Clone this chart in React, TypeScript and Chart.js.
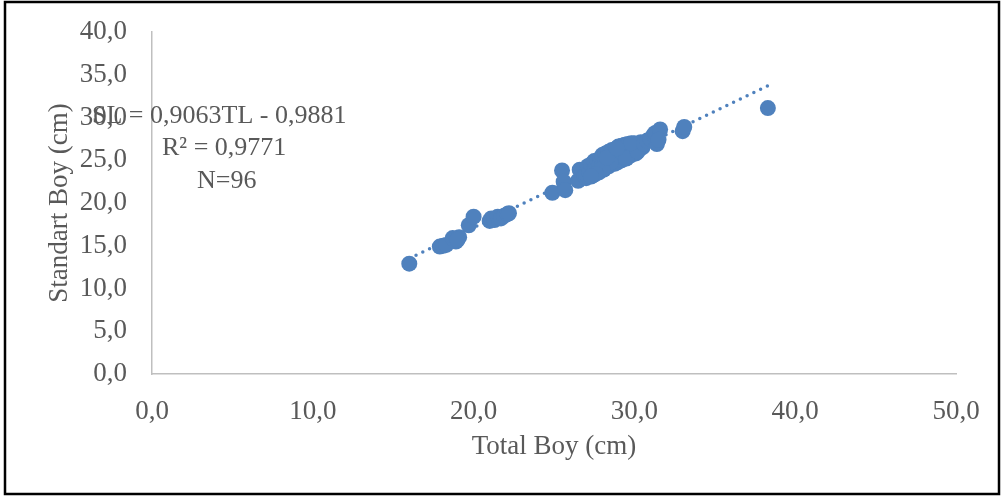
import React, { useEffect, useRef } from "react";
import { Chart, registerables } from "chart.js";

Chart.register(...registerables);

// Total length (x) and standard length (y), cm
const totalBoy: number[] = [
  16.0, 17.9, 18.1, 18.3, 18.7, 18.9, 19.1, 19.0, 19.7, 20.0,
  21.0, 21.1, 21.3, 21.5, 21.7, 21.9, 22.1, 22.2,
  24.9, 25.5, 25.6, 25.7, 26.5, 26.6, 26.9, 27.0,
  27.0, 27.1, 27.2, 27.3, 27.4, 27.5, 27.5, 27.6, 27.7, 27.8,
  27.8, 27.9, 28.0, 28.0, 28.1, 28.2, 28.2, 28.3, 28.4, 28.4,
  28.5, 28.6, 28.6, 28.7, 28.8, 28.8, 28.9, 29.0, 29.0, 29.1,
  29.2, 29.2, 29.3, 29.4, 29.4, 29.5, 29.6, 29.6, 29.7, 29.8,
  29.9, 30.0, 30.0, 30.1, 30.2, 30.3, 30.4, 30.5, 29.0, 28.5,
  28.0, 27.6, 29.5, 30.2, 28.3, 29.8, 27.3, 28.9, 30.6, 30.8,
  31.0, 31.2, 31.3, 31.6, 31.4, 31.5,
  33.0, 33.1, 38.3,
];
const standartBoy: number[] = [
  12.9, 14.9, 15.0, 15.1, 15.9, 15.5, 16.0, 15.7, 17.4, 18.4,
  17.9, 18.2, 18.0, 18.4, 18.2, 18.5, 18.7, 18.8,
  21.2, 23.8, 22.5, 21.5, 22.6, 23.9, 23.2, 22.9,
  23.3, 24.3, 23.6, 24.5, 23.2, 24.9, 23.9, 24.1, 25.0, 24.3,
  23.6, 25.2, 24.5, 25.6, 23.9, 24.7, 25.8, 24.9, 26.0, 24.3,
  25.1, 26.2, 24.6, 25.3, 26.3, 24.6, 25.5, 26.6, 24.8, 25.6,
  26.7, 25.0, 25.8, 26.8, 25.2, 26.0, 25.4, 26.9, 26.2, 25.6,
  26.8, 26.1, 27.0, 25.8, 26.6, 26.3, 27.1, 26.5, 25.7, 24.7,
  24.0, 23.4, 25.2, 26.0, 25.3, 27.0, 23.1, 26.4, 26.9, 27.3,
  27.5, 28.0, 28.2, 28.6, 26.9, 27.4,
  28.4, 28.9, 31.1,
];

// Linear trendline: SL = 0,9063 TL - 0,9881
const trendSlope = 0.9063;
const trendIntercept = -0.9881;
const trendX: number[] = [16.0, 38.3];

const annotationLines: string[] = ["SL = 0,9063TL - 0,9881", "R² = 0,9771", "N=96"];

const xTitle = "Total Boy (cm)";
const yTitle = "Standart Boy (cm)";

const BLUE = "rgb(79,129,189)";
const GREY_TEXT = "#595959";
const FONT = "'Liberation Serif', 'Times New Roman', serif";

const fmt = (v: number | string) => Number(v).toFixed(1).replace(".", ",");

export default function App() {
  const ref = useRef<HTMLCanvasElement | null>(null);

  useEffect(() => {
    if (!ref.current) return;
    const points = totalBoy.map((x, i) => ({ x, y: standartBoy[i] }));
    const trend = trendX.map((x) => ({ x, y: trendSlope * x + trendIntercept }));

    const decor = {
      id: "decor",
      beforeDraw(chart: any) {
        const ctx = chart.ctx;
        ctx.save();
        ctx.fillStyle = "#fff";
        ctx.fillRect(0, 0, chart.width, chart.height);
        ctx.strokeStyle = "#000";
        ctx.lineWidth = 2.5;
        ctx.strokeRect(5, 2, 994, 492);
        ctx.restore();
      },
      afterDraw(chart: any) {
        const ctx = chart.ctx;
        ctx.save();
        ctx.fillStyle = GREY_TEXT;
        ctx.font = `26px ${FONT}`;
        ctx.textBaseline = "middle";
        ctx.textAlign = "left";
        const xs = [92, 162, 197];
        const ys = [116, 148, 181];
        annotationLines.forEach((t, i) => ctx.fillText(t, xs[i], ys[i]));
        ctx.restore();
      },
    };

    const chart = new Chart(ref.current, {
      type: "scatter",
      data: {
        datasets: [
          {
            label: "data",
            data: points,
            backgroundColor: BLUE,
            borderColor: BLUE,
            borderWidth: 0,
            pointRadius: 8,
            order: 0,
          },
          {
            type: "line",
            label: "trend",
            data: trend,
            borderColor: BLUE,
            borderWidth: 3.5,
            borderDash: [0, 7.5],
            borderCapStyle: "round",
            pointRadius: 0,
            fill: false,
            order: 1,
          } as any,
        ],
      },
      options: {
        responsive: false,
        animation: false,
        layout: { padding: { top: 32, right: 46, bottom: 0, left: 0 } },
        plugins: {
          legend: { display: false },
          tooltip: { enabled: false },
        },
        scales: {
          x: {
            type: "linear",
            min: 0,
            max: 50,
            afterFit: (s: any) => {
              s.height = 123;
              s.paddingLeft = 0;
              s.paddingRight = 0;
            },
            ticks: {
              stepSize: 10,
              color: GREY_TEXT,
              padding: 22,
              font: { family: FONT, size: 27 },
              callback: (v: any) => fmt(v),
            },
            grid: { display: false, drawTicks: false },
            border: { display: true, color: "#BFBFBF", width: 1.5 },
            title: {
              display: true,
              text: xTitle,
              color: GREY_TEXT,
              font: { family: FONT, size: 27 },
              padding: { top: 0, bottom: 34 },
            },
          },
          y: {
            type: "linear",
            min: 0,
            max: 40,
            afterFit: (s: any) => {
              s.width = 152;
              s.paddingTop = 0;
              s.paddingBottom = 0;
            },
            ticks: {
              stepSize: 5,
              color: GREY_TEXT,
              padding: 25,
              font: { family: FONT, size: 27 },
              callback: (v: any) => fmt(v),
            },
            grid: { display: false, drawTicks: false },
            border: { display: true, color: "#BFBFBF", width: 1.5 },
            title: {
              display: true,
              text: yTitle,
              color: GREY_TEXT,
              font: { family: FONT, size: 27 },
              padding: { top: 44, bottom: 0 },
            },
          },
        },
      },
      plugins: [decor],
    });
    return () => chart.destroy();
  }, []);

  return (
    <div style={{ position: "fixed", left: 0, top: 0, width: 1002, height: 497 }}>
      <canvas ref={ref} width={1002} height={497} style={{ width: 1002, height: 497, display: "block" }} />
    </div>
  );
}
